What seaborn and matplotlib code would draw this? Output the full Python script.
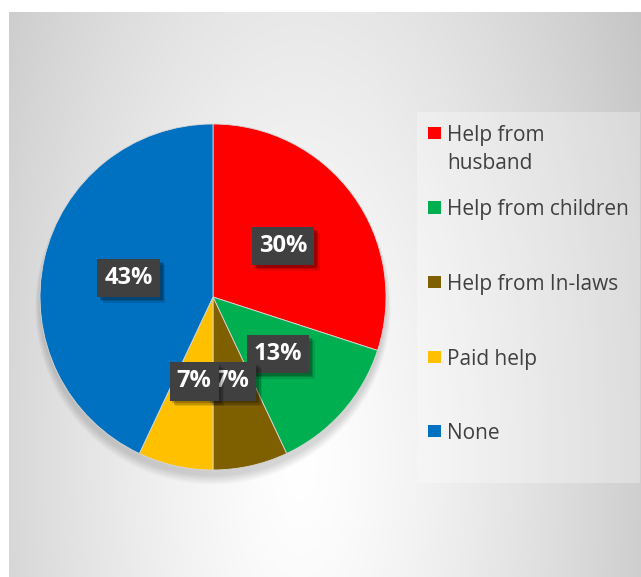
import numpy as np
import matplotlib
matplotlib.use("Agg")
import matplotlib.pyplot as plt
import matplotlib.patheffects as pe
from matplotlib.patches import Rectangle, Circle
import seaborn as sns

# Sources of household help and their shares (%)
categories = ["Help from\nhusband", "Help from children", "Help from In-laws", "Paid help", "None"]
shares = [30, 13, 7, 7, 43]
colors = ["#ff0000", "#00b050", "#7f6000", "#ffc000", "#0070c0"]

sns.set_style("white")
plt.rcParams["font.family"] = ["Open Sans", "DejaVu Sans"]

W, H = 641, 577
fig = plt.figure(figsize=(W / 100, H / 100), dpi=100)
fig.patch.set_facecolor("white")

# Soft grey backdrop, brightest just below the middle of the pie
bw, bh = W - 9, H - 12
bg = fig.add_axes([9 / W, 0, bw / W, bh / H])
bg.set_axis_off()
yy, xx = np.mgrid[0:bh, 0:bw]
dx = (xx + 9 - 300) / 300.0
dy = (yy + 12 - 460) / 700.0
f = 0.16 * np.sqrt(dx ** 2 + dy ** 2) ** 1.3
g = np.clip(1.0 - f, 0.76, 1.0)
bg.imshow(np.dstack([g, g, g]), aspect="auto", interpolation="bilinear",
          extent=(0, 1, 0, 1), origin="upper")
bg.set_xlim(0, 1)
bg.set_ylim(0, 1)

# Lighter panel behind the legend
fig.patches.append(Rectangle((417 / W, (H - 483) / H), 223 / W, 371 / H,
                             transform=fig.transFigure, facecolor="white",
                             alpha=0.3, edgecolor="none", zorder=1))

# Pie chart
ax = fig.add_axes([40 / W, (H - 470) / H, 346 / W, 346 / H])
ax.set_axis_off()

# soft shadow falling below the pie
for k in range(8):
    ax.add_patch(Circle((0, -0.035 - 0.003 * k), 1.0 + 0.004 * k, facecolor="black",
                        alpha=0.02, edgecolor="none", zorder=0, clip_on=False))

wedges, _, autotexts = ax.pie(
    shares, colors=colors, startangle=90, counterclock=False,
    autopct=lambda p: f"{p:.0f}%", pctdistance=0.5, radius=1.0,
    wedgeprops=dict(linewidth=0.6, edgecolor="#d8d8d8", zorder=2),
)
ax.set_xlim(-1, 1)
ax.set_ylim(-1, 1)

shadow = [pe.SimplePatchShadow(offset=(o, -o), shadow_rgbFace="black", alpha=a)
          for o, a in [(4.0, 0.10), (3.0, 0.15), (2.0, 0.2)]]
for t in autotexts:
    t.set_color("white")
    t.set_fontsize(17)
    t.set_fontweight("bold")
    t.set_zorder(5)
    t.set_bbox(dict(boxstyle="square,pad=0.3", facecolor="#404040",
                    edgecolor="none", linewidth=0))
    t.get_bbox_patch().set_path_effects(shadow + [pe.Normal()])

# Legend: first lines evenly spaced, squares aligned to the first line
top_px, step_px = 133, 74.5
for i, (name, col) in enumerate(zip(categories, colors)):
    ypx = top_px + step_px * i
    yf = (H - ypx) / H
    fig.patches.append(Rectangle((428 / W, yf - 6 / H), 13 / W, 12 / H,
                                 transform=fig.transFigure, facecolor=col,
                                 edgecolor="none", zorder=3))
    fig.text(447 / W, (H - ypx + 8) / H, name, fontsize=15, color="#404040",
             va="top", ha="left", linespacing=1.45, zorder=3)

fig.savefig("out.png", dpi=100)
